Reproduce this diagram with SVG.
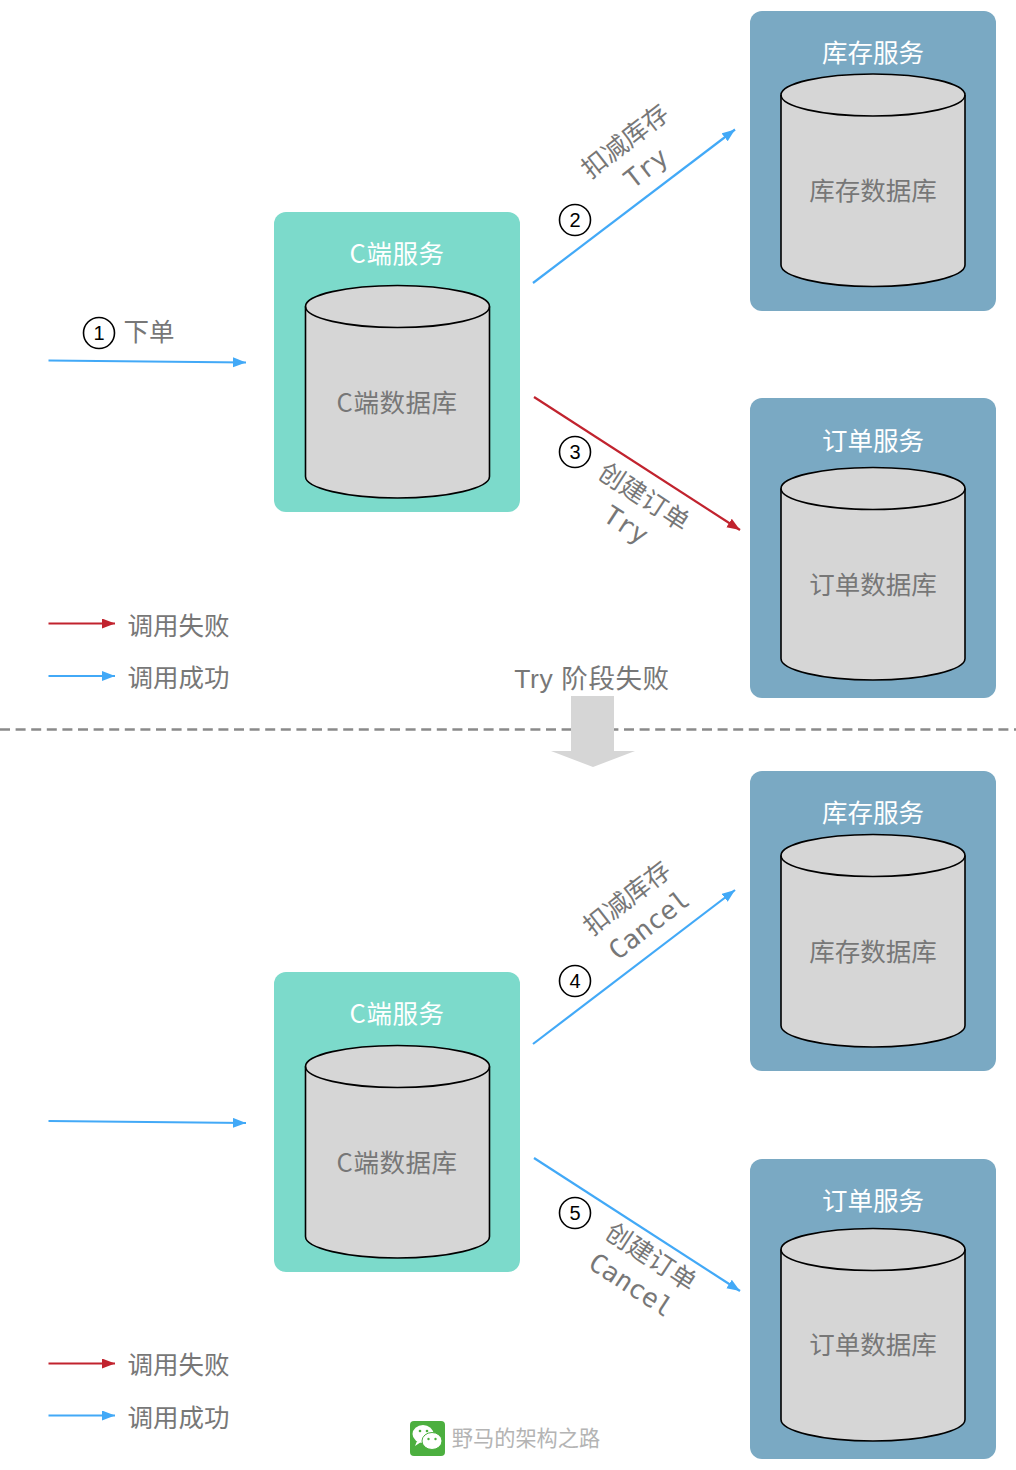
<svg xmlns="http://www.w3.org/2000/svg" xmlns:xlink="http://www.w3.org/1999/xlink" width="1016" height="1470" viewBox="0 0 1016 1470">
<style>
text{font-family:"Noto Sans CJK SC","Liberation Sans",sans-serif;text-anchor:middle}
.t{font-size:25.5px;fill:#fff}
.d{font-size:25.5px;fill:#777}
.l{font-size:25.5px;fill:#777}
.w{letter-spacing:.5px}
.m{font-family:"DejaVu Sans Mono","Noto Sans CJK SC",monospace;font-size:26px;fill:#777}
.n{font-family:"Liberation Sans",sans-serif;font-size:20px;fill:#000}
.g{fill:#7aa9c3}.c{fill:#7cdacb}
.cyl{fill:#d6d6d6;stroke:#000;stroke-width:1.6}
.cyl2{fill:none;stroke:#000;stroke-width:1.6}
.num{fill:#fff;stroke:#000;stroke-width:1.6}
.b{fill:none;stroke:#42a9f7;stroke-width:2.2}
.r{fill:none;stroke:#c1232e;stroke-width:2.2}
</style>
<defs>
<marker id="ab" markerUnits="userSpaceOnUse" markerWidth="14" markerHeight="12" refX="13" refY="5" orient="auto"><path d="M0 0L13 5L0 10Z" fill="#42a9f7"/></marker>
<marker id="ar" markerUnits="userSpaceOnUse" markerWidth="14" markerHeight="12" refX="13" refY="5" orient="auto"><path d="M0 0L13 5L0 10Z" fill="#c1232e"/></marker>
<g id="cy"><path class="cyl" d="M0 21V191C0 202.600 41 212.500 92 212.500S184 202.600 184 191V21C184 9.400 143 0 92 0S0 9.400 0 21Z"/><path class="cyl2" d="M0 21C0 32.600 41 42 92 42S184 32.600 184 21"/></g>
</defs>
<rect width="1016" height="1470" fill="#fff"/>

<g id="connectors">
<path class="b" d="M48.500 360.500L246 362.500" marker-end="url(#ab)"/>
<path class="b" d="M533 283L735 129.500" marker-end="url(#ab)"/>
<path class="r" d="M534 397L740 530" marker-end="url(#ar)"/>
<path class="b" d="M48.500 1121L246 1123" marker-end="url(#ab)"/>
<path class="b" d="M533 1044L735 890" marker-end="url(#ab)"/>
<path class="b" d="M534 1158L740 1291" marker-end="url(#ab)"/>
<path class="r" d="M48.500 623.500H115" marker-end="url(#ar)"/>
<path class="b" d="M48.500 676H115" marker-end="url(#ab)"/>
<path class="r" d="M48.500 1363.500H115" marker-end="url(#ar)"/>
<path class="b" d="M48.500 1415.500H115" marker-end="url(#ab)"/>
</g>

<g id="divider">
<path d="M0 729.500H1016" stroke="#8a8a8a" stroke-width="2.400" stroke-dasharray="10 5.600" fill="none"/>
<path d="M571 696H614V751H635L593 767L551 751H571Z" fill="#d6d6d6"/>
<text class="m" x="592" y="688" style="font-family:'Liberation Sans','Noto Sans CJK SC',sans-serif;font-size:26.500px;letter-spacing:.6px">Try 阶段失败</text>
</g>

<g id="c-service-top"><rect x="274" y="212" width="246" height="300" rx="12" class="c"/><text class="t w" x="397" y="263">C端服务</text><use xlink:href="#cy" href="#cy" x="305.500" y="285.500"/><text class="d w" x="397" y="412">C端数据库</text></g>
<g id="stock-service-top"><rect x="750" y="11" width="246" height="300" rx="12" class="g"/><text class="t" x="873" y="62">库存服务</text><use xlink:href="#cy" href="#cy" x="781" y="74"/><text class="d" x="873" y="200">库存数据库</text></g>
<g id="order-service-top"><rect x="750" y="398" width="246" height="300" rx="12" class="g"/><text class="t" x="873" y="450">订单服务</text><use xlink:href="#cy" href="#cy" x="781" y="467.500"/><text class="d" x="873" y="594">订单数据库</text></g>
<g id="c-service-bottom"><rect x="274" y="972" width="246" height="300" rx="12" class="c"/><text class="t w" x="397" y="1023">C端服务</text><use xlink:href="#cy" href="#cy" x="305.500" y="1045.500"/><text class="d w" x="397" y="1172">C端数据库</text></g>
<g id="stock-service-bottom"><rect x="750" y="771" width="246" height="300" rx="12" class="g"/><text class="t" x="873" y="822">库存服务</text><use xlink:href="#cy" href="#cy" x="781" y="834.500"/><text class="d" x="873" y="961">库存数据库</text></g>
<g id="order-service-bottom"><rect x="750" y="1159" width="246" height="300" rx="12" class="g"/><text class="t" x="873" y="1210">订单服务</text><use xlink:href="#cy" href="#cy" x="781" y="1228.500"/><text class="d" x="873" y="1354">订单数据库</text></g>

<g id="step-1"><circle class="num" cx="99" cy="333" r="15.500"/><text class="n" x="99" y="340">1</text><text class="l" x="149" y="341">下单</text></g>
<g id="step-2"><circle class="num" cx="575" cy="220" r="15.500"/><text class="n" x="575" y="227">2</text><text class="l" transform="translate(625 141) rotate(-38)" y="9">扣减库存</text><text class="m" transform="translate(646 168) rotate(-38)" y="9">Try</text></g>
<g id="step-3"><circle class="num" cx="575" cy="452" r="15.500"/><text class="n" x="575" y="459">3</text><text class="l" transform="translate(644 497) rotate(33)" y="9">创建订单</text><text class="m" transform="translate(626 525) rotate(33)" y="9">Try</text></g>
<g id="step-4"><circle class="num" cx="575" cy="981" r="15.500"/><text class="n" x="575" y="988">4</text><text class="l" transform="translate(627 898) rotate(-38)" y="9">扣减库存</text><text class="m" transform="translate(649 925) rotate(-38)" y="9">Cancel</text></g>
<g id="step-5"><circle class="num" cx="575" cy="1213" r="15.500"/><text class="n" x="575" y="1220">5</text><text class="l" transform="translate(651 1257) rotate(33)" y="9">创建订单</text><text class="m" transform="translate(631 1285) rotate(33)" y="9">Cancel</text></g>

<g id="legend-top"><text class="l" x="178.500" y="635">调用失败</text><text class="l" x="178.500" y="687">调用成功</text></g>
<g id="legend-bottom"><text class="l" x="178.500" y="1374">调用失败</text><text class="l" x="178.500" y="1427">调用成功</text></g>

<g id="watermark">
<rect x="410" y="1421" width="35" height="35" rx="4" fill="#4caf3f"/>
<ellipse cx="423" cy="1434" rx="10.500" ry="9" fill="#fff"/>
<path d="M417 1441L415 1446L421 1442Z" fill="#fff"/>
<ellipse cx="432" cy="1441" rx="10" ry="8.500" fill="#fff" stroke="#4caf3f" stroke-width="1"/>
<circle cx="420" cy="1431" r="1.300" fill="#4caf3f"/><circle cx="427" cy="1431" r="1.300" fill="#4caf3f"/>
<circle cx="428.500" cy="1439" r="1.200" fill="#4caf3f"/><circle cx="435.500" cy="1439" r="1.200" fill="#4caf3f"/>
<text x="526" y="1446" font-size="21.200" fill="#b4b4b4">野马的架构之路</text>
</g>
</svg>
